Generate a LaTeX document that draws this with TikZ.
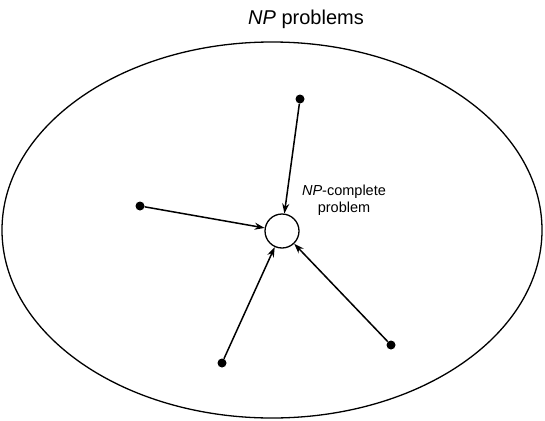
\documentclass[tikz,border=0pt]{standalone}
\usepackage{fontspec}
\setmainfont{Liberation Sans}
\usetikzlibrary{arrows.meta}
\begin{document}
\begin{tikzpicture}[x=1pt,y=-1pt,
  dot/.style={circle,fill=black,inner sep=0pt,minimum size=9pt},
  target/.style={circle,draw=black,line width=1.3pt,inner sep=0pt,minimum size=34pt},
  link/.style={line width=1.5pt,-{Stealth[length=10pt,width=7pt]}},
  label/.style={font=\fontsize{14.5}{17}\selectfont,align=center,inner sep=0pt}]
\useasboundingbox (0,0) rectangle (545,420);
\node[font=\fontsize{20}{24}\selectfont,inner sep=0pt] (title) at (306,19) {\textit{NP} problems};
\draw[line width=1.3pt] (272,230) ellipse [x radius=270, y radius=188] node (set) {};
\node[target] (c) at (282,231) {};
\node[dot] (a) at (300,99) {};
\node[dot] (b) at (140,206) {};
\node[dot] (d) at (222,363) {};
\node[dot] (e) at (391,345) {};
\node[label] (lab) at (344,200) {\textit{NP}-complete\\problem};
\draw[link] (a) -- (c);
\draw[link] (b) -- (c);
\draw[link] (d) -- (c);
\draw[link] (e) -- (c);
\end{tikzpicture}
\end{document}
